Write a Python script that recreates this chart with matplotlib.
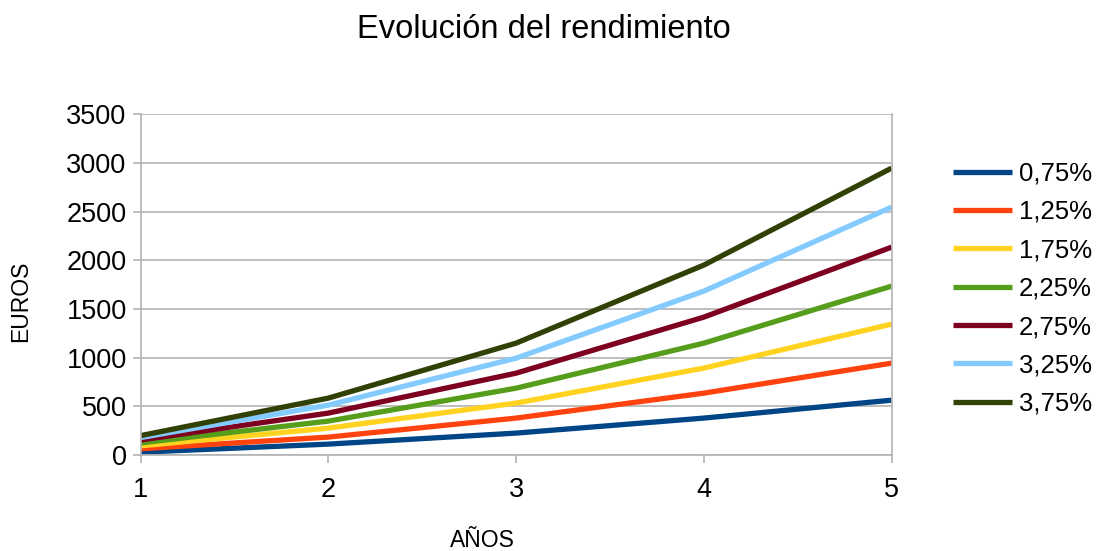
import matplotlib.pyplot as plt

plt.rcParams['font.family'] = ['Liberation Sans', 'DejaVu Sans']

# data
years = [1, 2, 3, 4, 5]
labels = ['0,75%', '1,25%', '1,75%', '2,25%', '2,75%', '3,25%', '3,75%']
r075 = [30, 113, 226, 380, 564]
r125 = [65, 185, 380, 636, 944]
r175 = [95, 277, 534, 893, 1344]
r225 = [125, 349, 687, 1149, 1734]
r275 = [155, 431, 841, 1416, 2134]
r325 = [180, 513, 995, 1683, 2545]
r375 = [200, 585, 1149, 1950, 2945]
series = [r075, r125, r175, r225, r275, r325, r375]
colors = ['#004586', '#ff420e', '#ffd320', '#579d1c', '#7e0021', '#83caff', '#314004']

fig = plt.figure(figsize=(10.98, 5.51), dpi=100)
ax = fig.add_axes([0.128, 0.174, 0.684, 0.619])

for vals, lab, c in zip(series, labels, colors):
    ax.plot(years, vals, color=c, linewidth=3.8, label=lab, solid_capstyle='butt')

ax.set_xlim(1, 5)
ax.set_ylim(0, 3500)
ax.set_xticks(years)
ax.set_yticks(range(0, 3501, 500))
ax.grid(axis='y', color='#b3b3b3', linewidth=1.2)
ax.set_axisbelow(True)
for s in ['left', 'right', 'bottom']:
    ax.spines[s].set_color('#b3b3b3')
    ax.spines[s].set_linewidth(1.2)
ax.spines['top'].set_visible(False)
ax.tick_params(axis='both', colors='#b3b3b3', length=6, width=1.2,
               labelsize=19.5, labelcolor='black')
ax.tick_params(axis='x', pad=10)
ax.tick_params(axis='y', pad=4)

ax.set_xlabel('AÑOS', fontsize=16.5, va='center')
ax.xaxis.set_label_coords(0.455, -0.249)
ax.set_ylabel('EUROS', fontsize=16.5, va='center')
ax.yaxis.set_label_coords(-0.16, 0.45)
fig.text(0.495, 0.946, 'Evolución del rendimiento', fontsize=23.5,
         ha='center', va='center')

leg = ax.legend(loc='upper left', bbox_to_anchor=(1.068, 0.891), frameon=False,
                fontsize=18.5, handlelength=2.3, handletextpad=0.26,
                labelspacing=0.56, borderaxespad=0)

fig.savefig('out.png', dpi=100)
